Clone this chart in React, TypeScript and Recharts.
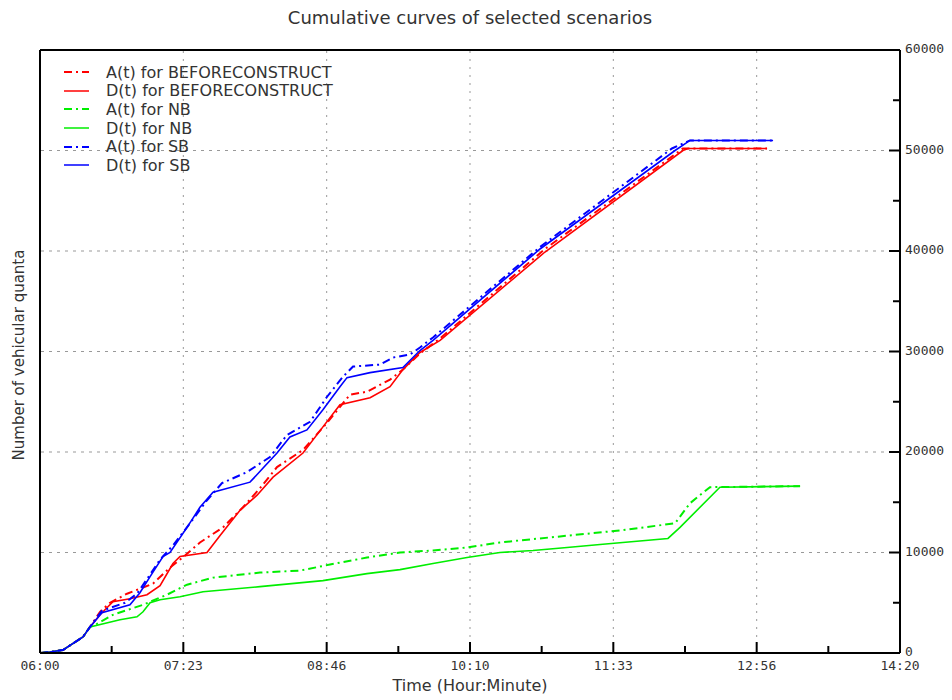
import { LineChart, Line, XAxis, YAxis, ReferenceLine, Legend } from "recharts";

// time in minutes after 06:00, value = cumulative vehicles
const X_TICKS = [0, 41.67, 83.33, 125, 166.67, 208.33, 250, 291.67, 333.33, 375, 416.67, 458.33, 500];
const X_LABELS = ["06:00", "07:23", "08:46", "10:10", "11:33", "12:56", "14:20"];
const X_GRID = [83.33, 166.67, 250, 333.33, 416.67];
const Y_TICKS = [0, 5000, 10000, 15000, 20000, 25000, 30000, 35000, 40000, 45000, 50000, 55000, 60000];
const Y_GRID = [10000, 20000, 30000, 40000, 50000];

const A_BEFORE: [number, number][] = [
  [0, 0], [5.8, 100], [13.4, 300], [25, 1600], [29.1, 2600], [34.9, 4100], [40.7, 5000],
  [50.6, 5900], [65.7, 6900], [75.6, 8500], [84.3, 9700], [93, 11000], [106.4, 12500],
  [118, 14500], [127.9, 16400], [137.8, 18500], [152.9, 20200], [166.9, 22900], [180.2, 25700],
  [190.1, 26000], [203.5, 27200], [211, 28200], [220.9, 29800], [232.6, 31300], [293.6, 40200],
  [373.8, 50200], [422.7, 50200],
];
const D_BEFORE: [number, number][] = [
  [0, 0], [5.8, 100], [13.4, 300], [25, 1600], [29.1, 2600], [34.9, 3800], [42.4, 5100],
  [52.3, 5400], [62.2, 5800], [69.8, 6700], [77.3, 8900], [81.4, 9600], [97.1, 10000],
  [104.7, 11700], [116.3, 14200], [126.2, 15700], [135.5, 17500], [152.9, 19900], [164.5, 22500],
  [174.4, 24700], [191.9, 25400], [203.5, 26500], [211, 28200], [220.9, 29900], [232.6, 31100],
  [293.6, 39900], [373.8, 50000], [376.7, 50200], [422.7, 50200],
];
const A_NB: [number, number][] = [
  [0, 0], [5.8, 100], [13.4, 300], [25, 1600], [29.1, 2600], [33.1, 2900], [42.4, 3800],
  [59.9, 4800], [73.8, 5800], [85.5, 6800], [100.6, 7500], [127.9, 8000], [151.2, 8200],
  [168.6, 8800], [190.1, 9500], [209.3, 10000], [228.5, 10200], [248.3, 10500], [267.4, 11000],
  [302.3, 11600], [337.2, 12200], [369.2, 12900], [377.9, 14900], [389.5, 16500], [441.9, 16600],
];
const D_NB: [number, number][] = [
  [0, 0], [5.8, 100], [13.4, 300], [25, 1600], [29.1, 2600], [46.5, 3300], [56.4, 3600],
  [59.9, 4100], [64, 5000], [69.8, 5300], [81.4, 5600], [94.8, 6100], [127.9, 6600],
  [164.5, 7200], [190.1, 7900], [209.3, 8300], [228.5, 8900], [248.3, 9500], [267.4, 10000],
  [286.6, 10200], [306.4, 10500], [325.6, 10800], [365.1, 11400], [372.1, 12500], [395.3, 16500],
  [441.9, 16600],
];
const A_SB: [number, number][] = [
  [0, 0], [5.8, 100], [13.4, 300], [25, 1600], [29.1, 2600], [36, 4200], [49.4, 5000],
  [56.4, 5900], [64, 7800], [69.8, 9300], [77.3, 10700], [87.2, 12900], [97.1, 15200],
  [105.8, 16900], [120.3, 18000], [133.7, 19500], [143.6, 21700], [157, 23000], [166.9, 25500],
  [176.2, 27500], [182, 28500], [197.7, 28700], [205.2, 29400], [215.1, 29700], [220.9, 30400],
  [228.5, 31400], [290.7, 40400], [367.4, 50200], [377.9, 51000], [426.2, 51000],
];
const D_SB: [number, number][] = [
  [0, 0], [5.8, 100], [13.4, 300], [25, 1600], [29.1, 2600], [36, 4000], [52.3, 4800],
  [58.1, 6000], [64, 7600], [71.5, 9600], [75.6, 10000], [85.5, 12500], [93, 14500],
  [100.6, 16000], [122.1, 17000], [129.7, 18400], [137.8, 19900], [145.3, 21500], [155.2, 22200],
  [164.5, 24200], [174.4, 26500], [178.5, 27400], [191.9, 27900], [211, 28400], [220.9, 30100],
  [228.5, 31100], [290.7, 40200], [369.2, 50000], [377.9, 51000], [426.2, 51000],
];

const DASHDOT = "8 4 2 4";
const series = [
  { name: "A(t) for BEFORECONSTRUCT", color: "#ff0000", dash: DASHDOT, points: A_BEFORE },
  { name: "D(t) for BEFORECONSTRUCT", color: "#ff0000", dash: undefined, points: D_BEFORE },
  { name: "A(t) for NB", color: "#00ee00", dash: DASHDOT, points: A_NB },
  { name: "D(t) for NB", color: "#00ee00", dash: undefined, points: D_NB },
  { name: "A(t) for SB", color: "#0000ff", dash: DASHDOT, points: A_SB },
  { name: "D(t) for SB", color: "#0000ff", dash: undefined, points: D_SB },
];

const FONT = '"DejaVu Sans", sans-serif';
const MONO = '"DejaVu Sans Mono", monospace';
const TEXT = "#333";

function fmtTime(i: number) {
  return X_LABELS[i / 2] ?? "";
}

// ticks point inward like gnuplot, minor ticks in between the labelled ones
function BottomTick(props: any) {
  const { x, y, index } = props;
  const major = index % 2 === 0;
  return (
    <g>
      <line x1={x} y1={y} x2={x} y2={y - (major ? 11 : 7)} stroke="#000" strokeWidth={2} />
      {major && (
        <text x={x} y={y + 17} textAnchor="middle" fontSize={13} fill={TEXT} fontFamily={MONO}>
          {fmtTime(index)}
        </text>
      )}
    </g>
  );
}

function TopTick(props: any) {
  const { x, y, index } = props;
  const major = index % 2 === 0;
  return <line x1={x} y1={y} x2={x} y2={y + (major ? 11 : 7)} stroke="#000" strokeWidth={2} />;
}

function LeftTick(props: any) {
  const { x, y, index } = props;
  const major = index % 2 === 0;
  return <line x1={x} y1={y} x2={x + (major ? 11 : 7)} y2={y} stroke="#000" strokeWidth={2} />;
}

function RightTick(props: any) {
  const { x, y, index, payload } = props;
  const major = index % 2 === 0;
  return (
    <g>
      <line x1={x} y1={y} x2={x - (major ? 11 : 7)} y2={y} stroke="#000" strokeWidth={2} />
      {major && (
        <text x={x + 5} y={y + 3} textAnchor="start" fontSize={13} fill={TEXT} fontFamily={MONO}>
          {payload.value}
        </text>
      )}
    </g>
  );
}

const renderLegend = () => (
  <div style={{ fontFamily: FONT, fontSize: 16, color: TEXT }}>
    {series.map((s) => (
      <div key={s.name} style={{ display: "flex", alignItems: "center", height: 18.6 }}>
        <svg width={26} height={6}>
          <line x1={0} y1={3} x2={25} y2={3} stroke={s.color} strokeWidth={s.dash ? 2 : 1.5} strokeDasharray={s.dash} />
        </svg>
        <span style={{ marginLeft: 16, whiteSpace: "nowrap" }}>{s.name}</span>
      </div>
    ))}
  </div>
);

const axisLine = { stroke: "#000", strokeWidth: 2 };

export default function App() {
  return (
    <div style={{ position: "absolute", left: 0, top: 0, width: 952, height: 700, background: "#fff", fontFamily: FONT }}>
      <div style={{ position: "absolute", left: 0, width: 940, top: 7, textAlign: "center", fontSize: 18, color: TEXT }}>
        Cumulative curves of selected scenarios
      </div>
      <div style={{ position: "absolute", left: 0, width: 940, top: 676, textAlign: "center", fontSize: 16, color: TEXT }}>
        Time (Hour:Minute)
      </div>
      <div
        style={{
          position: "absolute",
          left: 19,
          top: 355,
          transform: "translate(-50%, -50%) rotate(-90deg)",
          fontSize: 15,
          color: TEXT,
          whiteSpace: "nowrap",
        }}
      >
        Number of vehicular quanta
      </div>
      <LineChart width={952} height={700} margin={{ top: 40, right: 2, bottom: 17, left: 20 }}>
        <XAxis
          xAxisId="bottom"
          type="number"
          dataKey="t"
          domain={[0, 500]}
          ticks={X_TICKS}
          interval={0}
          height={30}
          tickSize={0}
          tickMargin={0}
          tickLine={false}
          axisLine={axisLine}
          tick={<BottomTick />}
        />
        <XAxis
          xAxisId="top"
          orientation="top"
          type="number"
          domain={[0, 500]}
          ticks={X_TICKS}
          interval={0}
          height={10}
          tickSize={0}
          tickMargin={0}
          tickLine={false}
          axisLine={axisLine}
          tick={<TopTick />}
        />
        <YAxis
          yAxisId="left"
          type="number"
          domain={[0, 60000]}
          ticks={Y_TICKS}
          interval={0}
          width={20}
          tickSize={0}
          tickMargin={0}
          tickLine={false}
          axisLine={axisLine}
          tick={<LeftTick />}
        />
        <YAxis
          yAxisId="right"
          orientation="right"
          type="number"
          domain={[0, 60000]}
          ticks={Y_TICKS}
          interval={0}
          width={50}
          tickSize={0}
          tickMargin={0}
          tickLine={false}
          axisLine={axisLine}
          tick={<RightTick />}
        />
        {X_GRID.map((v) => (
          <ReferenceLine key={"gx" + v} x={v} xAxisId="bottom" yAxisId="right" stroke="#999" strokeDasharray="2 6" />
        ))}
        {Y_GRID.map((v) => (
          <ReferenceLine key={"gy" + v} y={v} xAxisId="bottom" yAxisId="right" stroke="#999" strokeDasharray="3 5" />
        ))}
        <Legend
          content={renderLegend}
          layout="vertical"
          align="center"
          verticalAlign="middle"
          wrapperStyle={{ left: 64, top: 63, width: 320, height: 115 }}
        />
        {series.map((s) => (
          <Line
            key={s.name}
            name={s.name}
            data={s.points.map(([t, v]) => ({ t, v }))}
            dataKey="v"
            xAxisId="bottom"
            yAxisId="right"
            type="linear"
            stroke={s.color}
            strokeWidth={s.dash ? 2 : 1.6}
            strokeDasharray={s.dash}
            dot={false}
            activeDot={false}
            isAnimationActive={false}
          />
        ))}
      </LineChart>
    </div>
  );
}
